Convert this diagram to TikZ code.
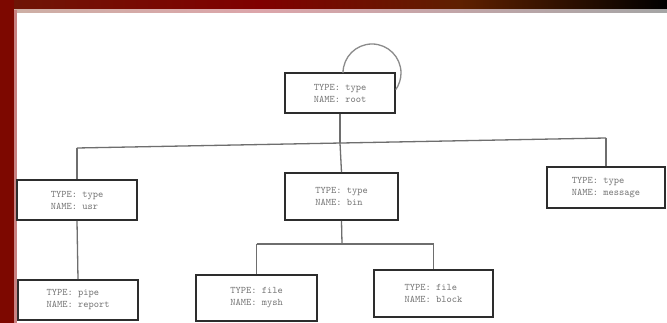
\documentclass[tikz,border=0pt]{standalone}
\usetikzlibrary{calc}
\definecolor{frameL}{RGB}{110,22,6}
\definecolor{frameM}{RGB}{128,0,0}
\definecolor{frameS}{RGB}{125,8,0}
\definecolor{frameB}{RGB}{95,32,0}
\definecolor{pinkA}{RGB}{205,175,165}
\definecolor{pinkB}{RGB}{220,165,170}
\definecolor{greyC}{RGB}{165,165,165}
\definecolor{pinkL}{RGB}{200,130,130}
\definecolor{boxline}{RGB}{45,45,45}
\definecolor{txt}{RGB}{115,115,115}
\definecolor{conn}{RGB}{110,110,110}
\tikzset{
  rec/.style={draw=boxline, line width=1.6pt, fill=white, rectangle, inner sep=0pt,
    font=\fontsize{10}{12}\selectfont\ttfamily, text=txt, align=left},
  link/.style={draw=conn, line width=1.3pt},
}
\begin{document}
\begin{tikzpicture}[x=1pt,y=-1pt]
\useasboundingbox (0,0) rectangle (667,323);
\fill[white] (0,0) rectangle (667,323);
% frame
\shade[left color=frameL, right color=frameM] (0,0) rectangle (260,10);
\shade[left color=frameM, right color=frameB] (259.5,0) rectangle (460,10);
\shade[left color=frameB, right color=black] (459.5,0) rectangle (667,10);
\shade[left color=pinkA, right color=pinkB] (14,10) rectangle (260,13);
\shade[left color=pinkB, right color=greyC] (259.5,10) rectangle (667,13);
\fill[frameS] (0,0) rectangle (14,323);
\fill[pinkL] (14,10) rectangle (17,323);

% boxes
\node[rec, minimum width=110, minimum height=40] (root) at (340,93) {TYPE: type\\NAME: root};
\node[rec, minimum width=120, minimum height=40] (L1) at (77,200) {TYPE: type\\NAME: usr};
\node[rec, minimum width=113, minimum height=47] (C1) at (341.5,196.5) {TYPE: type\\NAME: bin};
\node[rec, minimum width=118, minimum height=41] (R1) at (606,187.5) {TYPE: type\\NAME: message};
\node[rec, minimum width=120, minimum height=40] (L2) at (78,300) {TYPE: pipe\\NAME: report};
\node[rec, minimum width=121, minimum height=46] (C2a) at (256.5,298) {TYPE: file\\NAME: mysh};
\node[rec, minimum width=119, minimum height=47] (C2b) at (433.5,293.5) {TYPE: file\\NAME: block};

% connector coordinates
\coordinate (hl) at (77,148);
\coordinate (hr) at (606,138);
\coordinate (hm) at (340,143);
\coordinate (gl) at (256.5,244);
\coordinate (gr) at (433.5,244);
\coordinate (gm) at (342,244);
\coordinate (ls) at (343,73);

\draw[link] (root.south) -- (hm);
\draw[link] (hl) -- (hr);
\draw[link] (hl) -- (L1.north);
\draw[link] (hm) -- (C1.north);
\draw[link] (hr) -- (R1.north);
\draw[link] (L1.south) -- (L2.north);
\draw[link] (C1.south) -- (gm);
\draw[link] (gl) -- (gr);
\draw[link] (gl) -- (C2a.north);
\draw[link] (gr) -- (C2b.north);
% self loop
\draw[link, draw=conn!80] (ls) arc[start angle=180, end angle=395, radius=29];
\end{tikzpicture}
\end{document}
